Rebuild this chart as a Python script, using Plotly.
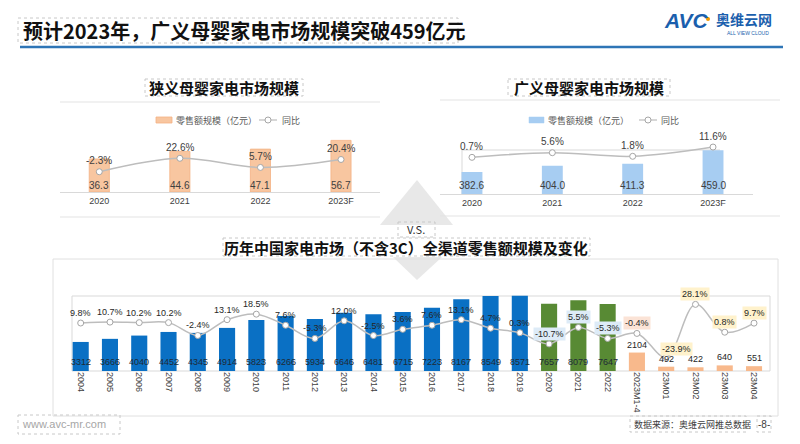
import plotly.graph_objects as go

W, H = 800, 444
def X(px): return px / W
def Y(py): return 1 - py / H

CJK = "Noto Sans CJK SC"
NUM = "Liberation Sans"

# ---------------- data ----------------
narrow_years = ["2020", "2021", "2022", "2023F"]
narrow_sales = [36.3, 44.6, 47.1, 56.7]
narrow_yoy = [-2.3, 22.6, 5.7, 20.4]

broad_years = ["2020", "2021", "2022", "2023F"]
broad_sales = [382.6, 404.0, 411.3, 459.0]
broad_yoy = [0.7, 5.6, 1.8, 11.6]

market_periods = ["2004", "2005", "2006", "2007", "2008", "2009", "2010", "2011",
                  "2012", "2013", "2014", "2015", "2016", "2017", "2018", "2019",
                  "2020", "2021", "2022", "2023M1-4", "23M01", "23M02", "23M03", "23M04"]
market_sales = [3312, 3666, 4040, 4452, 4345, 4914, 5823, 6266, 5934, 6646, 6481, 6715,
                7223, 8167, 8549, 8571, 7657, 8079, 7647, 2104, 492, 422, 640, 551]
market_yoy = [9.8, 10.7, 10.2, 10.2, -2.4, 13.1, 18.5, 7.6, -5.3, 12.0, -2.5, 3.6,
              7.6, 13.1, 4.7, 0.3, -10.7, 5.5, -5.3, -0.4, -23.9, 28.1, 0.8, 9.7]

legend_bar = "零售额规模（亿元）"
legend_line = "同比"

# ---------------- styles ----------------
ORANGE_L = "#F8C6A0"
BLUE_L = "#A7CDF2"
BLUE = "#0A70C4"
GREEN = "#588A34"
ORANGE = "#F8B98C"
LINE_C = "#BDBDBD"

def period_color(p):
    if len(p) == 4 and int(p) <= 2019:
        return BLUE
    if len(p) == 4:
        return GREEN
    return ORANGE

def label_bg(p):
    if len(p) == 4 and int(p) <= 2019:
        return "rgba(0,0,0,0)"
    if len(p) == 4:
        return "#DDEBF7"
    if p.startswith("2023"):
        return "#FBE3D6"
    return "#FFF2CC"

fig = go.Figure()

mk = dict(size=6, color="white", line=dict(color="#A6A6A6", width=1))

fig.add_bar(x=narrow_years, y=narrow_sales, xaxis="x", yaxis="y", width=0.25,
            marker=dict(color=ORANGE_L, line=dict(color="#F4B183", width=0.8)),
            hoverinfo="skip", showlegend=False)
fig.add_scatter(x=narrow_years, y=narrow_yoy, xaxis="x", yaxis="y2", mode="lines+markers",
                line=dict(color=LINE_C, width=1.5, shape="spline"), marker=mk,
                hoverinfo="skip", showlegend=False)

fig.add_bar(x=broad_years, y=broad_sales, xaxis="x2", yaxis="y3", width=0.26,
            marker=dict(color=BLUE_L, line=dict(width=0)),
            hoverinfo="skip", showlegend=False)
fig.add_scatter(x=broad_years, y=broad_yoy, xaxis="x2", yaxis="y4", mode="lines+markers",
                line=dict(color=LINE_C, width=1.5, shape="spline"), marker=mk,
                hoverinfo="skip", showlegend=False)

fig.add_bar(x=market_periods, y=market_sales, xaxis="x3", yaxis="y5", width=0.55,
            marker=dict(color=[period_color(p) for p in market_periods], line=dict(width=0)),
            hoverinfo="skip", showlegend=False)
fig.add_scatter(x=market_periods, y=market_yoy, xaxis="x3", yaxis="y6", mode="lines+markers",
                line=dict(color=LINE_C, width=1.5, shape="spline"), marker=mk,
                hoverinfo="skip", showlegend=False)

ann = []
lab = dict(family=NUM, size=10, color="#404040")
for i, (v, g) in enumerate(zip(narrow_sales, narrow_yoy)):
    ann.append(dict(x=i, xref="x", y=Y(185), yref="paper", text=f"{v:.1f}", font=lab))
    ann.append(dict(x=i, xref="x", y=g, yref="y2", yshift=11, text=f"{g:.1f}%", font=lab))
for i, (v, g) in enumerate(zip(broad_sales, broad_yoy)):
    ann.append(dict(x=i, xref="x2", y=Y(185), yref="paper", text=f"{v:.1f}", font=lab))
    ann.append(dict(x=i, xref="x2", y=g, yref="y4", yshift=11, text=f"{g:.1f}%", font=lab))
for i, (c, v, g) in enumerate(zip(market_periods, market_sales, market_yoy)):
    if len(c) == 4:
        ann.append(dict(x=i, xref="x3", y=Y(362), yref="paper", text=str(v),
                        font=dict(family=NUM, size=9, color="#1F2A36")))
    else:
        ann.append(dict(x=i, xref="x3", y=v, yref="y5", yanchor="bottom", yshift=1, text=str(v),
                        font=dict(family=NUM, size=9, color="#262626")))
    xs, ys = 0, 10
    if g == -23.9:
        xs, ys = 10, 8
    ann.append(dict(x=i, xref="x3", y=g, yref="y6", xshift=xs, yshift=ys, text=f"{g:.1f}%",
                    bgcolor=label_bg(c), borderpad=1,
                    font=dict(family=NUM, size=9, color="#262626")))

ann += [
    dict(x=X(21), y=Y(31), xanchor="left", text="<b>预计2023年，广义母婴家电市场规模突破459亿元</b>",
         font=dict(family=CJK, size=20, color="#111111")),
    dict(x=X(224), y=Y(87), text="<b>狭义母婴家电市场规模</b>", font=dict(family=CJK, size=15, color="#111111")),
    dict(x=X(589), y=Y(87), text="<b>广义母婴家电市场规模</b>", font=dict(family=CJK, size=15, color="#111111")),
    dict(x=X(174), y=Y(120), xanchor="left", text=legend_bar, font=dict(family=CJK, size=9, color="#595959")),
    dict(x=X(280), y=Y(120), xanchor="left", text=legend_line, font=dict(family=CJK, size=9, color="#595959")),
    dict(x=X(546), y=Y(120), xanchor="left", text=legend_bar, font=dict(family=CJK, size=9, color="#595959")),
    dict(x=X(659), y=Y(120), xanchor="left", text=legend_line, font=dict(family=CJK, size=9, color="#595959")),
    dict(x=X(416), y=Y(229), text="V.S.", font=dict(family=CJK, size=11, color="#333333")),
    dict(x=X(406), y=Y(247), text="<b>历年中国家电市场（不含3C）全渠道零售额规模及变化</b>",
         font=dict(family=CJK, size=15, color="#111111")),
    dict(x=X(20), y=Y(424), xanchor="left", text="www.avc-mr.com", font=dict(family=NUM, size=11, color="#A6A6A6")),
    dict(x=X(632), y=Y(424), xanchor="left", text="数据来源：奥维云网推总数据", font=dict(family=CJK, size=9, color="#404040")),
    dict(x=X(764), y=Y(424), text="-8-", font=dict(family=NUM, size=10, color="#404040")),
    dict(x=X(662), y=Y(21), xanchor="left", text="<b><i>AVC</i></b>", font=dict(family=NUM, size=21, color="#1B5FAD")),
    dict(x=X(714), y=Y(19), xanchor="left", text="<b>奥维云网</b>", font=dict(family=CJK, size=14, color="#1B5FAD")),
    dict(x=X(725), y=Y(33), xanchor="left", text="ALL VIEW CLOUD", font=dict(family=NUM, size=5, color="#1B5FAD")),
]
for a in ann:
    a.setdefault("xref", "paper")
    a.setdefault("yref", "paper")
    a.setdefault("xanchor", "center")
    a.setdefault("yanchor", "middle")
    a["showarrow"] = False

def line(x0, y0, x1, y1, color="#E3E3E3", width=1, layer="below", dash="solid"):
    return dict(type="line", xref="paper", yref="paper", x0=X(x0), y0=Y(y0), x1=X(x1), y1=Y(y1),
                line=dict(color=color, width=width, dash=dash), layer=layer)

def rect(x0, y0, x1, y1, color="#E3E3E3", fill="rgba(0,0,0,0)", width=1, layer="below", dash="solid"):
    return dict(type="rect", xref="paper", yref="paper", x0=X(x0), y0=Y(y0), x1=X(x1), y1=Y(y1),
                line=dict(color=color, width=width, dash=dash), fillcolor=fill, layer=layer)

def path(pts, fill):
    d = "M " + " L ".join(f"{X(a)},{Y(b)}" for a, b in pts) + " Z"
    return dict(type="path", xref="paper", yref="paper", path=d, fillcolor=fill,
                line=dict(width=0), layer="below")

DOT = "#C8C8C8"
shapes = [
    path([(380, 225), (417, 180), (453, 225)], "#E8E8E8"),
    path([(393, 257), (442, 257), (417, 280)], "#E8E8E8"),
    line(20, 47, 783, 47, "#2E75B6", 2.5),
    line(60, 102, 380, 102), line(60, 217, 380, 217),
    line(440, 100, 780, 100), line(440, 216, 780, 216),
    line(462, 150, 720, 150, "#D9D9D9"), line(462, 150, 462, 194, "#D9D9D9"),
    rect(53, 259, 778, 416, "#E0E0E0"),
    rect(72, 296, 770, 371, "#D9D9D9"),
    # text-box outlines as seen in the slide
    rect(18, 18, 458, 43, DOT, width=1, dash="dot"),
    rect(145, 79, 303, 96, DOT, width=1, dash="dot"),
    rect(508, 79, 670, 96, DOT, width=1, dash="dot"),
    rect(398, 222, 435, 237, DOT, width=1, dash="dot"),
    rect(223, 238, 590, 256, DOT, width=1, dash="dot"),
    rect(18, 415, 120, 434, DOT, width=1, dash="dot"),
    rect(630, 416, 746, 432, DOT, width=1, dash="dot"),
    rect(757, 416, 771, 432, DOT, width=1, dash="dot"),
    # legend swatches
    rect(156, 117, 172, 123, "#F4B183", ORANGE_L, 0.8, "above"),
    line(259, 120, 277, 120, LINE_C, 1.2, "above"),
    rect(529, 117, 544, 123, BLUE_L, BLUE_L, 0.5, "above"),
    line(639, 120, 657, 120, LINE_C, 1.2, "above"),
    dict(type="circle", xref="paper", yref="paper", x0=X(265), y0=Y(117), x1=X(271), y1=Y(123),
         fillcolor="white", line=dict(color="#A6A6A6", width=1), layer="above"),
    dict(type="circle", xref="paper", yref="paper", x0=X(645), y0=Y(117), x1=X(651), y1=Y(123),
         fillcolor="white", line=dict(color="#A6A6A6", width=1), layer="above"),
    dict(type="circle", xref="paper", yref="paper", x0=X(706), y0=Y(17), x1=X(710), y1=Y(21),
         fillcolor="#F39800", line=dict(width=0), layer="above"),
]

tickfont = dict(family=NUM, size=9, color="#404040")
hidden = dict(visible=False, showgrid=False, zeroline=False, fixedrange=True)

fig.update_layout(
    width=W, height=H, margin=dict(l=0, r=0, t=0, b=0),
    paper_bgcolor="white", plot_bgcolor="rgba(0,0,0,0)",
    showlegend=False, barmode="overlay",
    annotations=ann, shapes=shapes,
    xaxis=dict(domain=[X(60), X(380)], anchor="y", type="category", range=[-0.4876, 3.484],
               showline=True, linecolor="#D9D9D9", ticks="", tickfont=tickfont,
               showgrid=False, zeroline=False, fixedrange=True),
    yaxis=dict(domain=[Y(192), Y(132)], range=[0, 65.9], **hidden),
    yaxis2=dict(overlaying="y", range=[-39.8, 71.3], **hidden),
    xaxis2=dict(domain=[X(440), X(753)], anchor="y3", type="category", range=[-0.398, 3.4975],
                showline=True, linecolor="#D9D9D9", ticks="", tickfont=tickfont,
                showgrid=False, zeroline=False, fixedrange=True),
    yaxis3=dict(domain=[Y(194), Y(140)], range=[305, 495], **hidden),
    yaxis4=dict(overlaying="y3", range=[-38.1, 19.05], **hidden),
    xaxis3=dict(domain=[X(72), X(770)], anchor="y5", type="category", range=[-0.297, 23.546],
                showline=False, ticks="", tickangle=90, tickfont=dict(family=NUM, size=9, color="#404040"),
                showgrid=False, zeroline=False, fixedrange=True),
    yaxis5=dict(domain=[Y(371), Y(290)], range=[0, 9235], **hidden),
    yaxis6=dict(overlaying="y5", range=[-37.25, 42.2], **hidden),
)

fig.write_html("out.html", config={"displayModeBar": False},
               post_script="document.body.style.margin='0px';")
